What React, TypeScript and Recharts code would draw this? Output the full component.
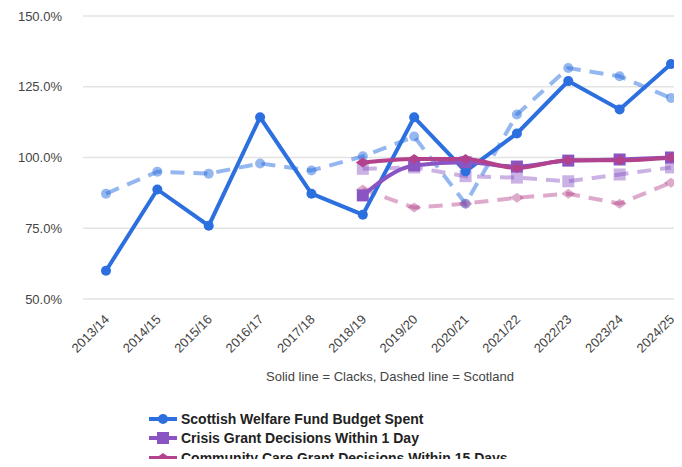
import React from "react";
import { LineChart, Line, XAxis, YAxis, CartesianGrid } from "recharts";

const years = [
  "2013/14", "2014/15", "2015/16", "2016/17", "2017/18", "2018/19",
  "2019/20", "2020/21", "2021/22", "2022/23", "2023/24", "2024/25",
];

// Clacks (solid) and Scotland (dashed), percentages
const swfClacks = [60, 88.7, 75.9, 114.2, 87.2, 79.8, 114.2, 95.1, 108.5, 127, 117, 133];
const swfScotland = [87.2, 95, 94.3, 97.9, 95.4, 100.4, 107.4, 83.7, 115.2, 131.6, 128.7, 121];
const crisisClacks = [null, null, null, null, null, 86.6, 97.2, 98.3, 96.8, 98.9, 99.3, 100];
const crisisScotland = [null, null, null, null, null, 96, 96.5, 93.4, 92.9, 91.6, 94, 96.5];
const ccgClacks = [null, null, null, null, null, 98.2, 99.5, 99.5, 96.3, 99, 99, 100];
const ccgScotland = [null, null, null, null, null, 88.7, 82.3, 83.7, 85.8, 87.2, 83.7, 91.1];

const yTicks = [50, 75, 100, 125, 150];

const BLUE = "#2c6fdf";
const PURPLE = "#8a55c3";
const PINK = "#b3428c";

const data = years.map((year, i) => ({
  year,
  swfClacks: swfClacks[i],
  swfScotland: swfScotland[i],
  crisisClacks: crisisClacks[i],
  crisisScotland: crisisScotland[i],
  ccgClacks: ccgClacks[i],
  ccgScotland: ccgScotland[i],
}));

const font = "'Liberation Sans', Arial, sans-serif";

function CircleDot(color: string, opacity = 1) {
  return (props: any) => {
    const { cx, cy, value } = props;
    if (value == null || cx == null) return <g key={props.index} />;
    return <circle key={props.index} cx={cx} cy={cy} r={5} fill={color} fillOpacity={opacity} />;
  };
}

function SquareDot(color: string, opacity = 1) {
  return (props: any) => {
    const { cx, cy, value } = props;
    if (value == null || cx == null) return <g key={props.index} />;
    return <rect key={props.index} x={cx - 6} y={cy - 6} width={12} height={12} fill={color} fillOpacity={opacity} />;
  };
}

function DiamondDot(color: string, opacity = 1) {
  return (props: any) => {
    const { cx, cy, value } = props;
    if (value == null || cx == null) return <g key={props.index} />;
    const pts = `${cx - 7},${cy} ${cx},${cy - 5} ${cx + 7},${cy} ${cx},${cy + 5}`;
    return <polygon key={props.index} points={pts} fill={color} fillOpacity={opacity} />;
  };
}

const XTick = (props: any) => {
  const { x, y, payload } = props;
  const tx = x + 1;
  const ty = y + 10;
  return (
    <text
      x={tx}
      y={ty}
      transform={`rotate(-45, ${tx}, ${ty})`}
      textAnchor="end"
      dominantBaseline="central"
      fontSize={13}
      fill="#444"
      fontFamily={font}
    >
      {payload.value}
    </text>
  );
};

const legendItems = [
  { label: "Scottish Welfare Fund Budget Spent", color: BLUE, shape: "circle" },
  { label: "Crisis Grant Decisions Within 1 Day", color: PURPLE, shape: "square" },
  { label: "Community Care Grant Decisions Within 15 Days", color: PINK, shape: "diamond" },
];

function LegendIcon({ color, shape }: { color: string; shape: string }) {
  return (
    <svg width={30} height={12} style={{ marginRight: 3 }}>
      <line x1={1} y1={6} x2={29} y2={6} stroke={color} strokeWidth={4} />
      {shape === "circle" && <circle cx={15} cy={6} r={5} fill={color} />}
      {shape === "square" && <rect x={9} y={0} width={12} height={12} fill={color} />}
      {shape === "diamond" && <polygon points="8,6 15,1 22,6 15,11" fill={color} />}
    </svg>
  );
}

export default function App() {
  return (
    <div style={{ position: "relative", margin: -8, width: 682, height: 467, background: "#fff", fontFamily: font, overflow: "hidden" }}>
      <LineChart width={682} height={360} data={data} margin={{ top: 16, right: 0, bottom: 0, left: 0 }}>
        <CartesianGrid vertical={false} stroke="#e3e3e3" strokeWidth={1.5} />
        <XAxis
          dataKey="year"
          axisLine={false}
          tickLine={false}
          height={61}
          interval={0}
          padding={{ left: 23, right: 11 }}
          tick={<XTick />}
        />
        <YAxis
          domain={[50, 150]}
          ticks={yTicks}
          width={83}
          axisLine={false}
          tickLine={false}
          tickSize={0}
          tickMargin={21}
          tickFormatter={(v: number) => `${v.toFixed(1)}%`}
          tick={{ fontSize: 13, fill: "#444", fontFamily: font }}
        />
        <Line dataKey="swfScotland" stroke={BLUE} strokeOpacity={0.5} strokeWidth={4} strokeDasharray="14 9" dot={CircleDot(BLUE, 0.5)} isAnimationActive={false} />
        <Line dataKey="crisisScotland" stroke={PURPLE} strokeOpacity={0.45} strokeWidth={4} strokeDasharray="14 9" dot={SquareDot(PURPLE, 0.45)} isAnimationActive={false} />
        <Line dataKey="ccgScotland" stroke={PINK} strokeOpacity={0.45} strokeWidth={4} strokeDasharray="14 9" dot={DiamondDot(PINK, 0.45)} isAnimationActive={false} />
        <Line dataKey="swfClacks" stroke={BLUE} strokeWidth={4} dot={CircleDot(BLUE)} isAnimationActive={false} />
        <Line type="monotone" dataKey="crisisClacks" stroke={PURPLE} strokeWidth={4} dot={SquareDot(PURPLE)} isAnimationActive={false} />
        <Line type="monotone" dataKey="ccgClacks" stroke={PINK} strokeWidth={4} dot={DiamondDot(PINK)} isAnimationActive={false} />
      </LineChart>
      <div style={{ position: "absolute", left: 0, width: 780, top: 369, textAlign: "center", fontSize: 13, color: "#444" }}>
        Solid line = Clacks, Dashed line = Scotland
      </div>
      <div style={{ position: "absolute", left: 148, top: 409 }}>
        {legendItems.map((item) => (
          <div key={item.label} style={{ display: "flex", alignItems: "center", height: 19.5, fontSize: 14, fontWeight: "bold", color: "#222" }}>
            <LegendIcon color={item.color} shape={item.shape} />
            {item.label}
          </div>
        ))}
      </div>
    </div>
  );
}
